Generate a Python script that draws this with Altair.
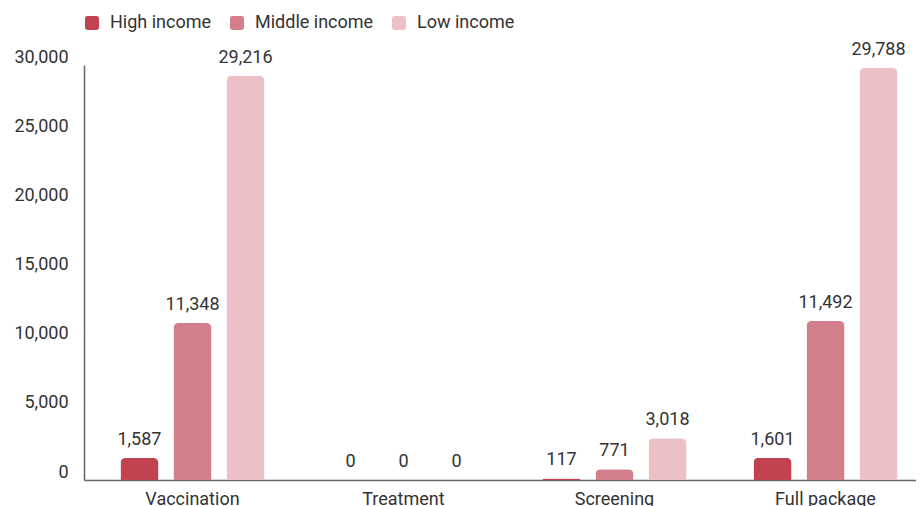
import altair as alt
import pandas as pd

categories = ["Vaccination", "Treatment", "Screening", "Full package"]
series = ["High income", "Middle income", "Low income"]
high_income = [1587, 0, 117, 1601]
middle_income = [11348, 0, 771, 11492]
low_income = [29216, 0, 3018, 29788]
colors = ["#C0434F", "#D37F8B", "#EBC1C7"]
y_ticks = [0, 5000, 10000, 15000, 20000, 25000, 30000]

rows = []
for s, vals in zip(series, [high_income, middle_income, low_income]):
    for c, v in zip(categories, vals):
        rows.append({"category": c, "series": s, "value": v})
df = pd.DataFrame(rows)

FONT = "Roboto"
rounded_square = ("M -0.65 -1 L 0.65 -1 Q 1 -1 1 -0.65 L 1 0.65 Q 1 1 0.65 1 "
                  "L -0.65 1 Q -1 1 -1 0.65 L -1 -0.65 Q -1 -1 -0.65 -1 Z")

x_enc = alt.X(
    "category:N", sort=categories, title=None,
    scale=alt.Scale(range=[0, 847], paddingInner=0, paddingOuter=0.007, align=1),
    axis=alt.Axis(labelAngle=0, ticks=False, domainColor="#666666", domainWidth=1.5,
                  labelFontSize=18, labelColor="#333333", labelPadding=10,
                  labelFont=FONT, labelBaseline="top"),
)
xoff_enc = alt.XOffset("series:N", sort=series,
                       scale=alt.Scale(paddingInner=0.283, paddingOuter=0.632))
y_enc = alt.Y(
    "value:Q", title=None,
    scale=alt.Scale(domain=[0, 30000], nice=False),
    axis=alt.Axis(values=y_ticks, format=",.0f", ticks=False, grid=False,
                  domainColor="#666666", domainWidth=1.5,
                  labelFontSize=18, labelColor="#333333", labelPadding=16,
                  labelOffset=-3,
                  labelFont=FONT, labelBaseline="alphabetic"),
)

bars = alt.Chart(df).mark_bar(cornerRadiusTopLeft=5, cornerRadiusTopRight=5).encode(
    x=x_enc, xOffset=xoff_enc, y=y_enc,
    color=alt.Color(
        "series:N", sort=series, title=None,
        scale=alt.Scale(domain=series, range=colors),
        legend=alt.Legend(orient="none", legendX=-1, legendY=-51, direction="horizontal",
                          symbolType=rounded_square, symbolSize=196, symbolStrokeWidth=0,
                          labelFontSize=18, labelFont=FONT, labelColor="#333333",
                          labelOffset=9, columnPadding=16),
    ),
)

labels = alt.Chart(df).mark_text(
    baseline="alphabetic", dy=-13, fontSize=18, font=FONT, color="#333333"
).encode(
    x=alt.X("category:N", sort=categories),
    xOffset=alt.XOffset("series:N", sort=series),
    y=alt.Y("value:Q"),
    text=alt.Text("value:Q", format=",.0f"),
)

chart = alt.layer(bars, labels).properties(
    width=832, height=415,
    autosize=alt.AutoSizeParams(type="none"),
    padding={"left": 76, "top": 57, "right": 0, "bottom": 26},
).configure_view(stroke=None)

chart.save("out.html", embed_options={"renderer": "svg", "actions": False})
